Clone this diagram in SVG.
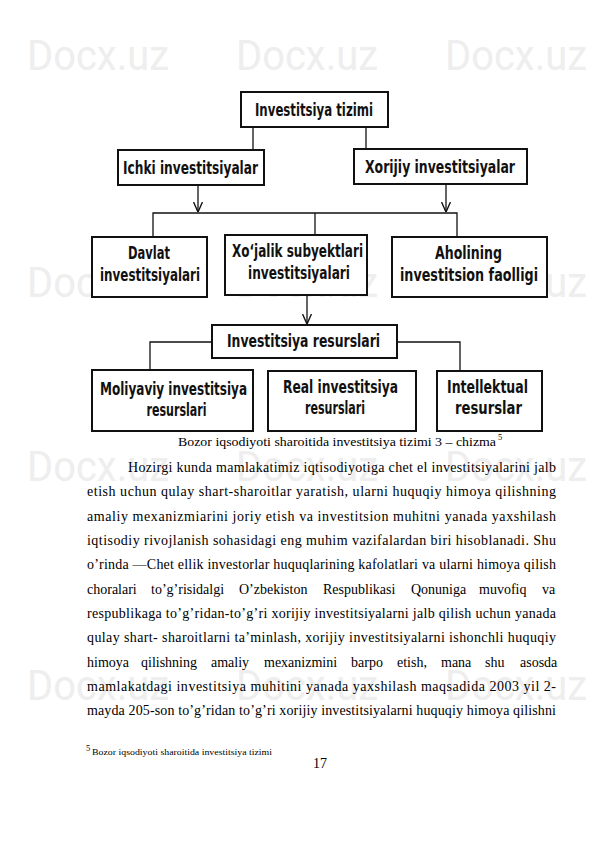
<svg xmlns="http://www.w3.org/2000/svg" width="595" height="842" viewBox="0 0 595 842">
<style>
.wm{font-family:"Roboto","Liberation Sans",sans-serif;font-size:42px;fill:#eeeeee}
.box{fill:#fff;stroke:#111;stroke-width:2}
.bt{font-family:"Liberation Sans Narrow","Arial Narrow","DejaVu Sans Condensed",sans-serif;font-weight:bold;font-size:17px;fill:#111;text-anchor:middle}
.con{fill:none;stroke:#111;stroke-width:1.3}
.body{font-family:"Liberation Serif","Times New Roman",serif;font-size:14px;fill:#000}
.cap{font-family:"Liberation Serif","Times New Roman",serif;font-size:13px;fill:#000}
.fn{font-family:"Liberation Serif","Times New Roman",serif;font-size:8.5px;fill:#000}
</style>
<defs>
<marker id="arr" markerUnits="userSpaceOnUse" viewBox="0 0 10 10" refX="10" refY="5" markerWidth="10" markerHeight="10" orient="auto">
<path d="M0,0.5 L10,5 L0,9.5" fill="none" stroke="#111" stroke-width="1.4"/>
</marker>
</defs>
<rect width="595" height="842" fill="#fff"/>
<g id="watermark">
<text class="wm" x="27" y="70" textLength="142" lengthAdjust="spacingAndGlyphs">Docx.uz</text>
<text class="wm" x="236" y="70" textLength="142" lengthAdjust="spacingAndGlyphs">Docx.uz</text>
<text class="wm" x="445" y="70" textLength="142" lengthAdjust="spacingAndGlyphs">Docx.uz</text>
<text class="wm" x="27" y="297" textLength="142" lengthAdjust="spacingAndGlyphs">Docx.uz</text>
<text class="wm" x="236" y="297" textLength="142" lengthAdjust="spacingAndGlyphs">Docx.uz</text>
<text class="wm" x="445" y="297" textLength="142" lengthAdjust="spacingAndGlyphs">Docx.uz</text>
<text class="wm" x="27" y="481" textLength="142" lengthAdjust="spacingAndGlyphs">Docx.uz</text>
<text class="wm" x="236" y="481" textLength="142" lengthAdjust="spacingAndGlyphs">Docx.uz</text>
<text class="wm" x="445" y="481" textLength="142" lengthAdjust="spacingAndGlyphs">Docx.uz</text>
<text class="wm" x="27" y="700" textLength="142" lengthAdjust="spacingAndGlyphs">Docx.uz</text>
<text class="wm" x="236" y="700" textLength="142" lengthAdjust="spacingAndGlyphs">Docx.uz</text>
<text class="wm" x="445" y="700" textLength="142" lengthAdjust="spacingAndGlyphs">Docx.uz</text>
</g>
<g id="connectors">
<line class="con" x1="253" y1="127" x2="253" y2="150"/>
<line class="con" x1="366" y1="127" x2="366" y2="149"/>
<line class="con" x1="198" y1="185" x2="198" y2="212" marker-end="url(#arr)"/>
<line class="con" x1="446" y1="184" x2="446" y2="212" marker-end="url(#arr)"/>
<polyline class="con" points="153,237 153,213 457,213 457,237"/>
<line class="con" x1="315" y1="213" x2="315" y2="235"/>
<line class="con" x1="307" y1="295" x2="307" y2="324" marker-end="url(#arr)"/>
<polyline class="con" points="212,342 150,342 150,370"/>
<polyline class="con" points="397,342 460,342 460,371"/>
</g>
<g id="n-tizimi">
<rect class="box" x="241" y="92" width="147" height="35"/>
<text class="bt" x="314" y="116" textLength="118" lengthAdjust="spacingAndGlyphs">Investitsiya tizimi</text>
</g>
<g id="n-ichki">
<rect class="box" x="118" y="150" width="146" height="35"/>
<text class="bt" x="190.5" y="174" textLength="135" lengthAdjust="spacingAndGlyphs">Ichki investitsiyalar</text>
</g>
<g id="n-xorijiy">
<rect class="box" x="354" y="149" width="173" height="35"/>
<text class="bt" x="440" y="173" textLength="150" lengthAdjust="spacingAndGlyphs">Xorijiy investitsiyalar</text>
</g>
<g id="n-davlat">
<rect class="box" x="92" y="237" width="115" height="60"/>
<text class="bt" x="149" y="259" textLength="42" lengthAdjust="spacingAndGlyphs">Davlat</text>
<text class="bt" x="150" y="281" textLength="100" lengthAdjust="spacingAndGlyphs">investitsiyalari</text>
</g>
<g id="n-xojalik">
<rect class="box" x="225" y="235" width="142" height="60"/>
<text class="bt" x="297.5" y="257" textLength="131" lengthAdjust="spacingAndGlyphs">Xo‘jalik subyektlari</text>
<text class="bt" x="299" y="279" textLength="102" lengthAdjust="spacingAndGlyphs">investitsiyalari</text>
</g>
<g id="n-aholining">
<rect class="box" x="392" y="237" width="155" height="60"/>
<text class="bt" x="468.5" y="259" textLength="67" lengthAdjust="spacingAndGlyphs">Aholining</text>
<text class="bt" x="469" y="281" textLength="138" lengthAdjust="spacingAndGlyphs">investitsion faolligi</text>
</g>
<g id="n-resurslari">
<rect class="box" x="212" y="325" width="185" height="33"/>
<text class="bt" x="303.5" y="347" textLength="153" lengthAdjust="spacingAndGlyphs">Investitsiya resurslari</text>
</g>
<g id="n-moliyaviy">
<rect class="box" x="92" y="370" width="161" height="61"/>
<text class="bt" x="173.5" y="395" textLength="147" lengthAdjust="spacingAndGlyphs">Moliyaviy investitsiya</text>
<text class="bt" x="176.5" y="416" textLength="60" lengthAdjust="spacingAndGlyphs">resurslari</text>
</g>
<g id="n-real">
<rect class="box" x="268" y="371" width="148" height="60"/>
<text class="bt" x="340.5" y="393" textLength="115" lengthAdjust="spacingAndGlyphs">Real investitsiya</text>
<text class="bt" x="335" y="414" textLength="60" lengthAdjust="spacingAndGlyphs">resurslari</text>
</g>
<g id="n-intellektual">
<rect class="box" x="437" y="371" width="105" height="60"/>
<text class="bt" x="487.5" y="393" textLength="81" lengthAdjust="spacingAndGlyphs">Intellektual</text>
<text class="bt" x="488.5" y="414" textLength="67" lengthAdjust="spacingAndGlyphs">resurslar</text>
</g>
<g id="caption">
<text class="cap" x="178" y="446" textLength="318" lengthAdjust="spacingAndGlyphs">Bozor iqsodiyoti sharoitida investitsiya tizimi 3 – chizma</text>
<text class="fn" x="498" y="440">5</text>
</g>
<g id="body">
<text class="body" x="128" y="472" textLength="428" lengthAdjust="spacing">Hozirgi kunda mamlakatimiz iqtisodiyotiga chet el investitsiyalarini jalb</text>
<text class="body" x="87" y="496" textLength="469" lengthAdjust="spacing">etish uchun qulay shart-sharoitlar yaratish, ularni huquqiy himoya qilishning</text>
<text class="body" x="87" y="521" textLength="469" lengthAdjust="spacing">amaliy mexanizmiarini joriy etish va investitsion muhitni yanada yaxshilash</text>
<text class="body" x="87" y="545" textLength="469" lengthAdjust="spacing">iqtisodiy rivojlanish sohasidagi eng muhim vazifalardan biri hisoblanadi. Shu</text>
<text class="body" x="87" y="569" textLength="469" lengthAdjust="spacing">o’rinda —Chet ellik investorlar huquqlarining kafolatlari va ularni himoya qilish</text>
<text class="body" y="594"><tspan x="87">choralari</tspan><tspan x="151">to’g’risidalgi</tspan><tspan x="239">O’zbekiston</tspan><tspan x="323">Respublikasi</tspan><tspan x="411">Qonuniga</tspan><tspan x="479">muvofiq</tspan><tspan x="542">va</tspan></text>
<text class="body" x="87" y="618" textLength="469" lengthAdjust="spacing">respublikaga to’g’ridan-to’g’ri xorijiy investitsiyalarni jalb qilish uchun yanada</text>
<text class="body" x="87" y="642" textLength="469" lengthAdjust="spacing">qulay shart- sharoitlarni ta’minlash, xorijiy investitsiyalarni ishonchli huquqiy</text>
<text class="body" y="667"><tspan x="87">himoya</tspan><tspan x="141">qilishning</tspan><tspan x="211">amaliy</tspan><tspan x="264">mexanizmini</tspan><tspan x="351">barpo</tspan><tspan x="397">etish,</tspan><tspan x="441">mana</tspan><tspan x="485">shu</tspan><tspan x="520">asosda</tspan></text>
<text class="body" x="87" y="691" textLength="469" lengthAdjust="spacing">mamlakatdagi investitsiya muhitini yanada yaxshilash maqsadida 2003 yil 2-</text>
<text class="body" x="87" y="715" textLength="469" lengthAdjust="spacing">mayda 205-son to’g’ridan to’g’ri xorijiy investitsiyalarni huquqiy himoya qilishni</text>
</g>
<g id="footnote">
<text class="fn" x="86" y="751" font-size="5.5">5</text>
<text class="fn" x="92" y="755" textLength="180" lengthAdjust="spacingAndGlyphs">Bozor iqsodiyoti sharoitida investitsiya tizimi</text>
<text class="body" x="313" y="768" font-size="12">17</text>
</g>
</svg>
